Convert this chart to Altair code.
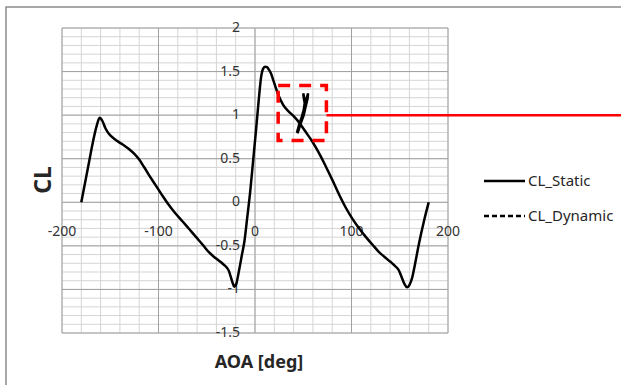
import altair as alt
import pandas as pd

# Static lift curve CL(AOA)
aoa_static = [-180, -176, -172, -168, -164, -161, -158, -155, -151, -146, -141, -136,
              -131, -125, -120, -115, -110, -105, -100, -95, -90, -83, -75, -68, -61,
              -54, -48, -41, -34, -30, -27, -25, -23, -21.5, -19.5, -16.5, -13.5, -11,
              -8, -5, -2, 1, 4, 6.5, 8.5, 10.5, 12.5, 14.5, 16.5, 19, 22, 25, 29, 35,
              40, 44, 48, 53, 58, 63, 68, 73, 80, 88, 95, 101, 108, 115, 122, 128, 134,
              140, 145, 149, 152, 155, 157.5, 160, 163, 166, 170, 175, 180]
cl_static = [0.0, 0.23, 0.46, 0.69, 0.88, 0.97, 0.93, 0.85, 0.78, 0.73, 0.69, 0.655,
             0.615, 0.555, 0.49, 0.405, 0.315, 0.23, 0.145, 0.06, -0.02, -0.12, -0.22,
             -0.31, -0.40, -0.49, -0.57, -0.64, -0.70, -0.74, -0.79, -0.86, -0.93, -0.97,
             -0.94, -0.78, -0.60, -0.45, -0.17, 0.12, 0.47, 0.82, 1.19, 1.45, 1.535, 1.555,
             1.55, 1.52, 1.48, 1.40, 1.30, 1.21, 1.12, 1.04, 0.99, 0.94, 0.88, 0.80, 0.72,
             0.63, 0.53, 0.42, 0.26, 0.07, -0.08, -0.19, -0.30, -0.40, -0.49, -0.565,
             -0.625, -0.68, -0.73, -0.78, -0.86, -0.94, -0.975, -0.95, -0.86, -0.70, -0.47,
             -0.22, 0.0]

# Dynamic hysteresis loop (traversal order)
aoa_dynamic = [43.5, 45, 46, 48.5, 50.5, 51.5, 50.5, 50, 51, 52, 53.5, 55, 54.5, 52.5,
               50.5, 47.5, 45.5, 44]
cl_dynamic = [0.80, 0.86, 0.90, 0.98, 1.06, 1.14, 1.20, 1.25, 1.20, 1.15, 1.19, 1.25,
              1.19, 1.10, 1.00, 0.91, 0.84, 0.79]

# Axis ticks and gridlines
x_major = [-200, -100, 0, 100, 200]
x_labels = ["-200", "-100", "0", "100", "200"]
y_major = [-1.5, -1, -0.5, 0, 0.5, 1, 1.5, 2]
y_labels = ["-1.5", "-1", "-0.5", "0", "0.5", "1", "1.5", "2"]
x_minor = list(range(-200, 201, 20))
y_minor = [round(-1.5 + 0.1 * i, 1) for i in range(36)]

# Highlight box around the dynamic loop and its callout line
box_aoa = [24, 74]
box_cl = [0.71, 1.34]
callout_aoa = [74, 380]
callout_cl = 1.0

legend_names = ["CL_Static", "CL_Dynamic"]

FONT = "Noto Sans, sans-serif"
W, H = 386, 305

xs = alt.Scale(domain=[-200, 200], nice=False, zero=False)
ys = alt.Scale(domain=[-1.5, 2], nice=False, zero=False)

static_df = pd.DataFrame({"aoa": aoa_static, "cl": cl_static})
dyn_df = pd.DataFrame({"aoa": aoa_dynamic, "cl": cl_dynamic, "i": range(len(aoa_dynamic))})
xminor_df = pd.DataFrame({"v": x_minor})
yminor_df = pd.DataFrame({"v": y_minor})
xmajor_df = pd.DataFrame({"v": x_major, "label": x_labels, "zero": 0})
ymajor_df = pd.DataFrame({"v": y_major, "label": y_labels, "zero": 0})
box_df = pd.DataFrame({"x1": [box_aoa[0]], "x2": [box_aoa[1]], "y1": [box_cl[0]], "y2": [box_cl[1]]})
callout_df = pd.DataFrame({"x1": [callout_aoa[0]], "x2": [callout_aoa[1]], "y": [callout_cl]})
one = pd.DataFrame({"a": [0]})

grid_x_minor = alt.Chart(xminor_df).mark_rule(color="#d4d4d4", strokeWidth=1).encode(
    x=alt.X("v:Q", scale=xs, axis=None))
grid_y_minor = alt.Chart(yminor_df).mark_rule(color="#d4d4d4", strokeWidth=1).encode(
    y=alt.Y("v:Q", scale=ys, axis=None))
grid_x_major = alt.Chart(xmajor_df).mark_rule(color="#a0a0a0", strokeWidth=1).encode(
    x=alt.X("v:Q", scale=xs, axis=None))
grid_y_major = alt.Chart(ymajor_df).mark_rule(color="#a0a0a0", strokeWidth=1).encode(
    y=alt.Y("v:Q", scale=ys, axis=None))

y_tick_text = alt.Chart(ymajor_df).mark_text(
    align="right", baseline="middle", dx=-15, font=FONT, fontSize=14, color="#333333"
).encode(x=alt.X("zero:Q", scale=xs, axis=None), y=alt.Y("v:Q", scale=ys, axis=None),
         text="label:N")
x_tick_text = alt.Chart(xmajor_df).mark_text(
    align="center", baseline="middle", dy=30, font=FONT, fontSize=14, color="#333333"
).encode(x=alt.X("v:Q", scale=xs, axis=None), y=alt.Y("zero:Q", scale=ys, axis=None),
         text="label:N")

static_line = alt.Chart(static_df).mark_line(
    color="black", strokeWidth=2.5, interpolate="monotone"
).encode(x=alt.X("aoa:Q", scale=xs, axis=None), y=alt.Y("cl:Q", scale=ys, axis=None))

dyn_line = alt.Chart(dyn_df).mark_line(color="black", strokeWidth=2.5).encode(
    x=alt.X("aoa:Q", scale=xs, axis=None), y=alt.Y("cl:Q", scale=ys, axis=None),
    order="i:Q")

box = alt.Chart(box_df).mark_rect(
    fillOpacity=0, stroke="#ff0000", strokeWidth=3.5, strokeDash=[12, 9]
).encode(x=alt.X("x1:Q", scale=xs, axis=None), x2="x2:Q",
         y=alt.Y("y1:Q", scale=ys, axis=None), y2="y2:Q")

callout = alt.Chart(callout_df).mark_rule(color="#ff0000", strokeWidth=2.5).encode(
    x=alt.X("x1:Q", scale=xs, axis=None), x2="x2:Q",
    y=alt.Y("y:Q", scale=ys, axis=None))

x_title = alt.Chart(one).mark_text(
    text="AOA [deg]", font=FONT, fontSize=18, fontWeight="bold", color="#262626",
    align="center", baseline="middle"
).encode(x=alt.value(197), y=alt.value(335))

y_title = alt.Chart(one).mark_text(
    text="CL", font=FONT, fontSize=23, fontWeight="bold", color="#262626",
    align="center", baseline="middle", angle=270
).encode(x=alt.value(-18), y=alt.value(152))

frame = alt.Chart(one).mark_rect(
    fillOpacity=0, stroke="#8c8c8c", strokeWidth=1.5
).encode(x=alt.value(-56), x2=alt.value(620), y=alt.value(-21), y2=alt.value(420))

leg_static = alt.Chart(one).mark_rule(color="black", strokeWidth=2.5).encode(
    x=alt.value(422), x2=alt.value(463), y=alt.value(153))
leg_dyn = alt.Chart(one).mark_rule(color="black", strokeWidth=2.5, strokeDash=[5, 3]).encode(
    x=alt.value(422), x2=alt.value(463), y=alt.value(188))
leg_text1 = alt.Chart(one).mark_text(
    text=legend_names[0], font=FONT, fontSize=15, color="#262626", align="left", baseline="middle"
).encode(x=alt.value(466), y=alt.value(153))
leg_text2 = alt.Chart(one).mark_text(
    text=legend_names[1], font=FONT, fontSize=15, color="#262626", align="left", baseline="middle"
).encode(x=alt.value(466), y=alt.value(188))

chart = alt.layer(
    frame, grid_x_minor, grid_y_minor, grid_x_major, grid_y_major,
    y_tick_text, x_tick_text, static_line, dyn_line, box, callout,
    x_title, y_title, leg_static, leg_dyn, leg_text1, leg_text2
).properties(
    width=W, height=H,
    autosize=alt.AutoSizeParams(type="none"),
    padding={"left": 62, "top": 28, "right": 173, "bottom": 52},
    background="white"
).configure_view(stroke=None)

chart.save("out.html", embed_options={"renderer": "svg", "actions": False})
